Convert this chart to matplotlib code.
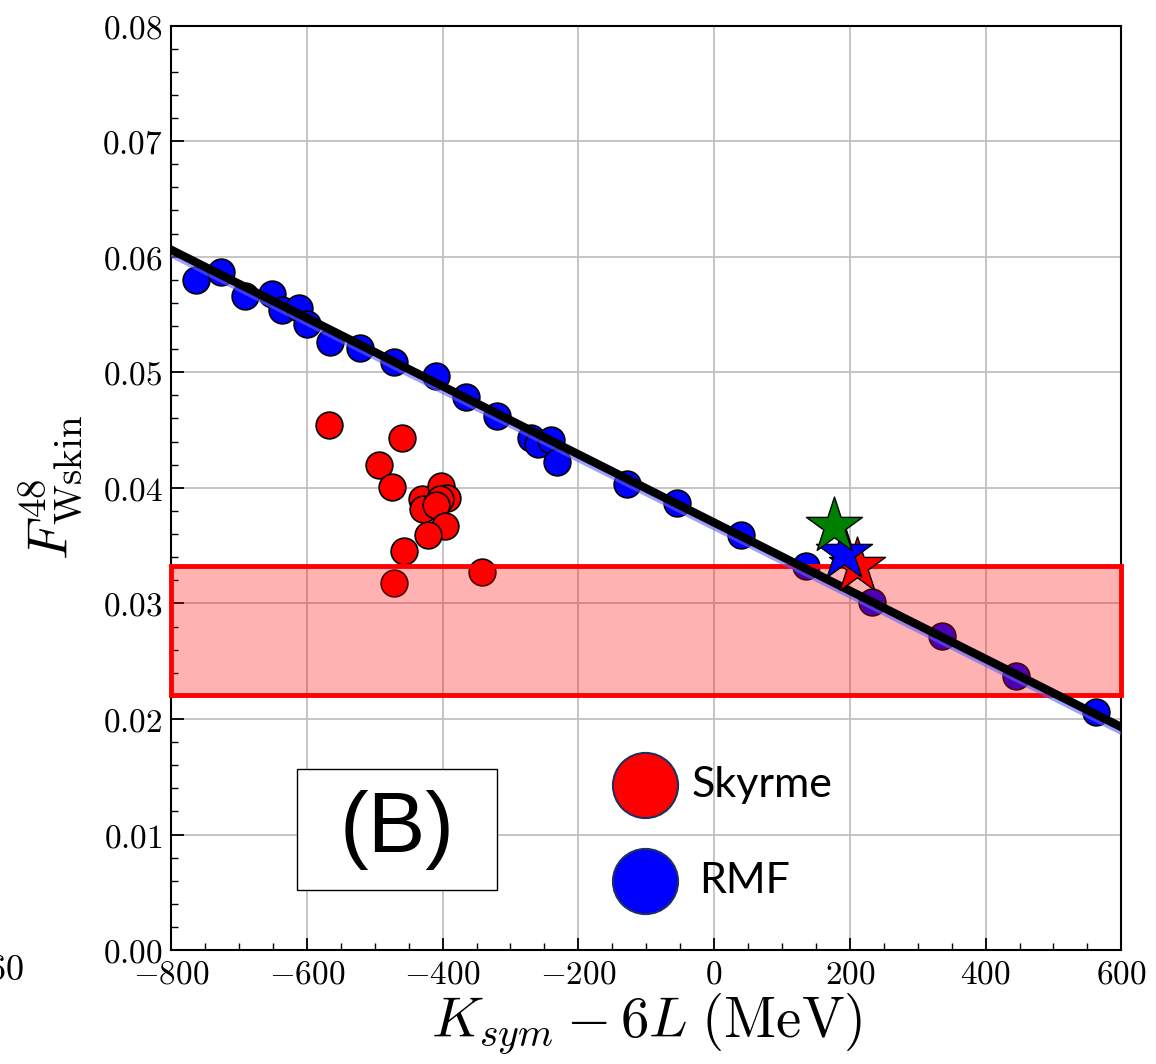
import numpy as np
import matplotlib.pyplot as plt
from matplotlib.patches import Rectangle

plt.rcParams['mathtext.fontset'] = 'cm'
plt.rcParams['font.family'] = 'DejaVu Serif'

# RMF points
rmf_x = [-763, -726, -691, -652, -636, -611, -600, -566, -522, -471, -410, -366,
         -320, -270, -259, -240, -231, -128, -54, 39, 136, 232, 336, 445, 562]
rmf_y = [0.0580, 0.0587, 0.0566, 0.0568, 0.0554, 0.0556, 0.0542, 0.0526, 0.0521,
         0.0509, 0.0497, 0.0479, 0.0462, 0.0443, 0.0438, 0.0441, 0.0422, 0.0403,
         0.0387, 0.0359, 0.0332, 0.0301, 0.0272, 0.0237, 0.0206]

# Skyrme points
sky_x = [-568, -460, -493, -475, -431, -402, -394, -404, -429, -409, -397, -421,
         -457, -471, -342]
sky_y = [0.0454, 0.0443, 0.0420, 0.0401, 0.0390, 0.0402, 0.0391, 0.0390, 0.0382,
         0.0385, 0.0367, 0.0359, 0.0345, 0.0318, 0.0327]

# stars
star_x = [211, 192, 177]
star_y = [0.0332, 0.0344, 0.0367]
star_c = ['red', 'blue', 'green']

# linear fit
fit_x = [-800, 600]
fit_y = [0.0606, 0.0193]

# band
band_lo, band_hi = 0.0221, 0.0332

fig = plt.figure(figsize=(11.56, 10.64), dpi=100)
ax = fig.add_axes([0.148, 0.107, 0.822, 0.869])

ax.grid(True, color='#c0c0c0', lw=1.3, zorder=0)
ax.scatter(rmf_x, rmf_y, s=370, c='blue', edgecolors='black', linewidths=1.2, zorder=3)
ax.scatter(sky_x, sky_y, s=370, c='red', edgecolors='black', linewidths=1.2, zorder=3)
ax.add_patch(Rectangle((-800, band_lo), 1400, band_hi - band_lo, facecolor='red',
                       alpha=0.3, edgecolor='none', zorder=4))
ax.add_patch(Rectangle((-800, band_lo), 1400, band_hi - band_lo, facecolor='none',
                       edgecolor='red', lw=3.5, zorder=4, clip_on=False))
ax.plot(fit_x, [v - 0.0003 for v in fit_y], color='#6060ff', lw=6, alpha=0.6, zorder=5)
ax.plot(fit_x, fit_y, color='black', lw=6, zorder=6)
for x, y, c in zip(star_x, star_y, star_c):
    ax.scatter([x], [y], s=1800, marker='*', c=c, edgecolors='black',
               linewidths=1.0, zorder=7)

ax.set_xlim(-800, 600)
ax.set_ylim(0, 0.08)
ax.set_xticks(np.arange(-800, 601, 200))
ax.set_yticks(np.arange(0, 0.0801, 0.01))
ax.set_xticklabels([r'$%d$' % v for v in np.arange(-800, 601, 200)])
ax.set_yticklabels([r'$%.2f$' % v for v in np.arange(0, 0.0801, 0.01)])
ax.set_xticks(np.arange(-800, 601, 50), minor=True)
ax.set_yticks(np.arange(0, 0.0801, 0.002), minor=True)
ax.tick_params(which='major', direction='in', length=9, width=1.3, labelsize=24, pad=6)
ax.tick_params(which='minor', direction='in', length=5, width=1.0)
for s in ax.spines.values():
    s.set_linewidth(1.5)

ax.set_xlabel(r'$K_{sym}-6L\;(\mathrm{MeV})$', fontsize=41, labelpad=0)
ax.set_ylabel(r'$F^{48}_{\rm Wskin}$', fontsize=40, labelpad=12)

# panel tag
ax.add_patch(Rectangle((-614, 0.0052), 294, 0.0105, facecolor='white',
                       edgecolor='black', lw=1.0, zorder=8))
ax.text(-467, 0.0104, '(B)', fontsize=62, family='Liberation Sans', ha='center',
        va='center', zorder=9)

# hand-made legend
ax.scatter([-102], [0.0143], s=2200, c='red', edgecolors='#1f2f5f', linewidths=1.5,
           zorder=8, clip_on=False)
ax.scatter([-102], [0.0060], s=2200, c='blue', edgecolors='#1f2f5f', linewidths=1.5,
           zorder=8, clip_on=False)
ax.text(-33, 0.0143, 'Skyrme', fontsize=31, family='Lato', va='center', zorder=8)
ax.text(-22, 0.0060, 'RMF', fontsize=31, family='Lato', va='center', zorder=8)

# clipped label from neighbouring panel
fig.text(24 / 1156, 1 - 970 / 1064, r'$60$', fontsize=26, ha='right', va='center')

fig.savefig('out.png', dpi=100)
